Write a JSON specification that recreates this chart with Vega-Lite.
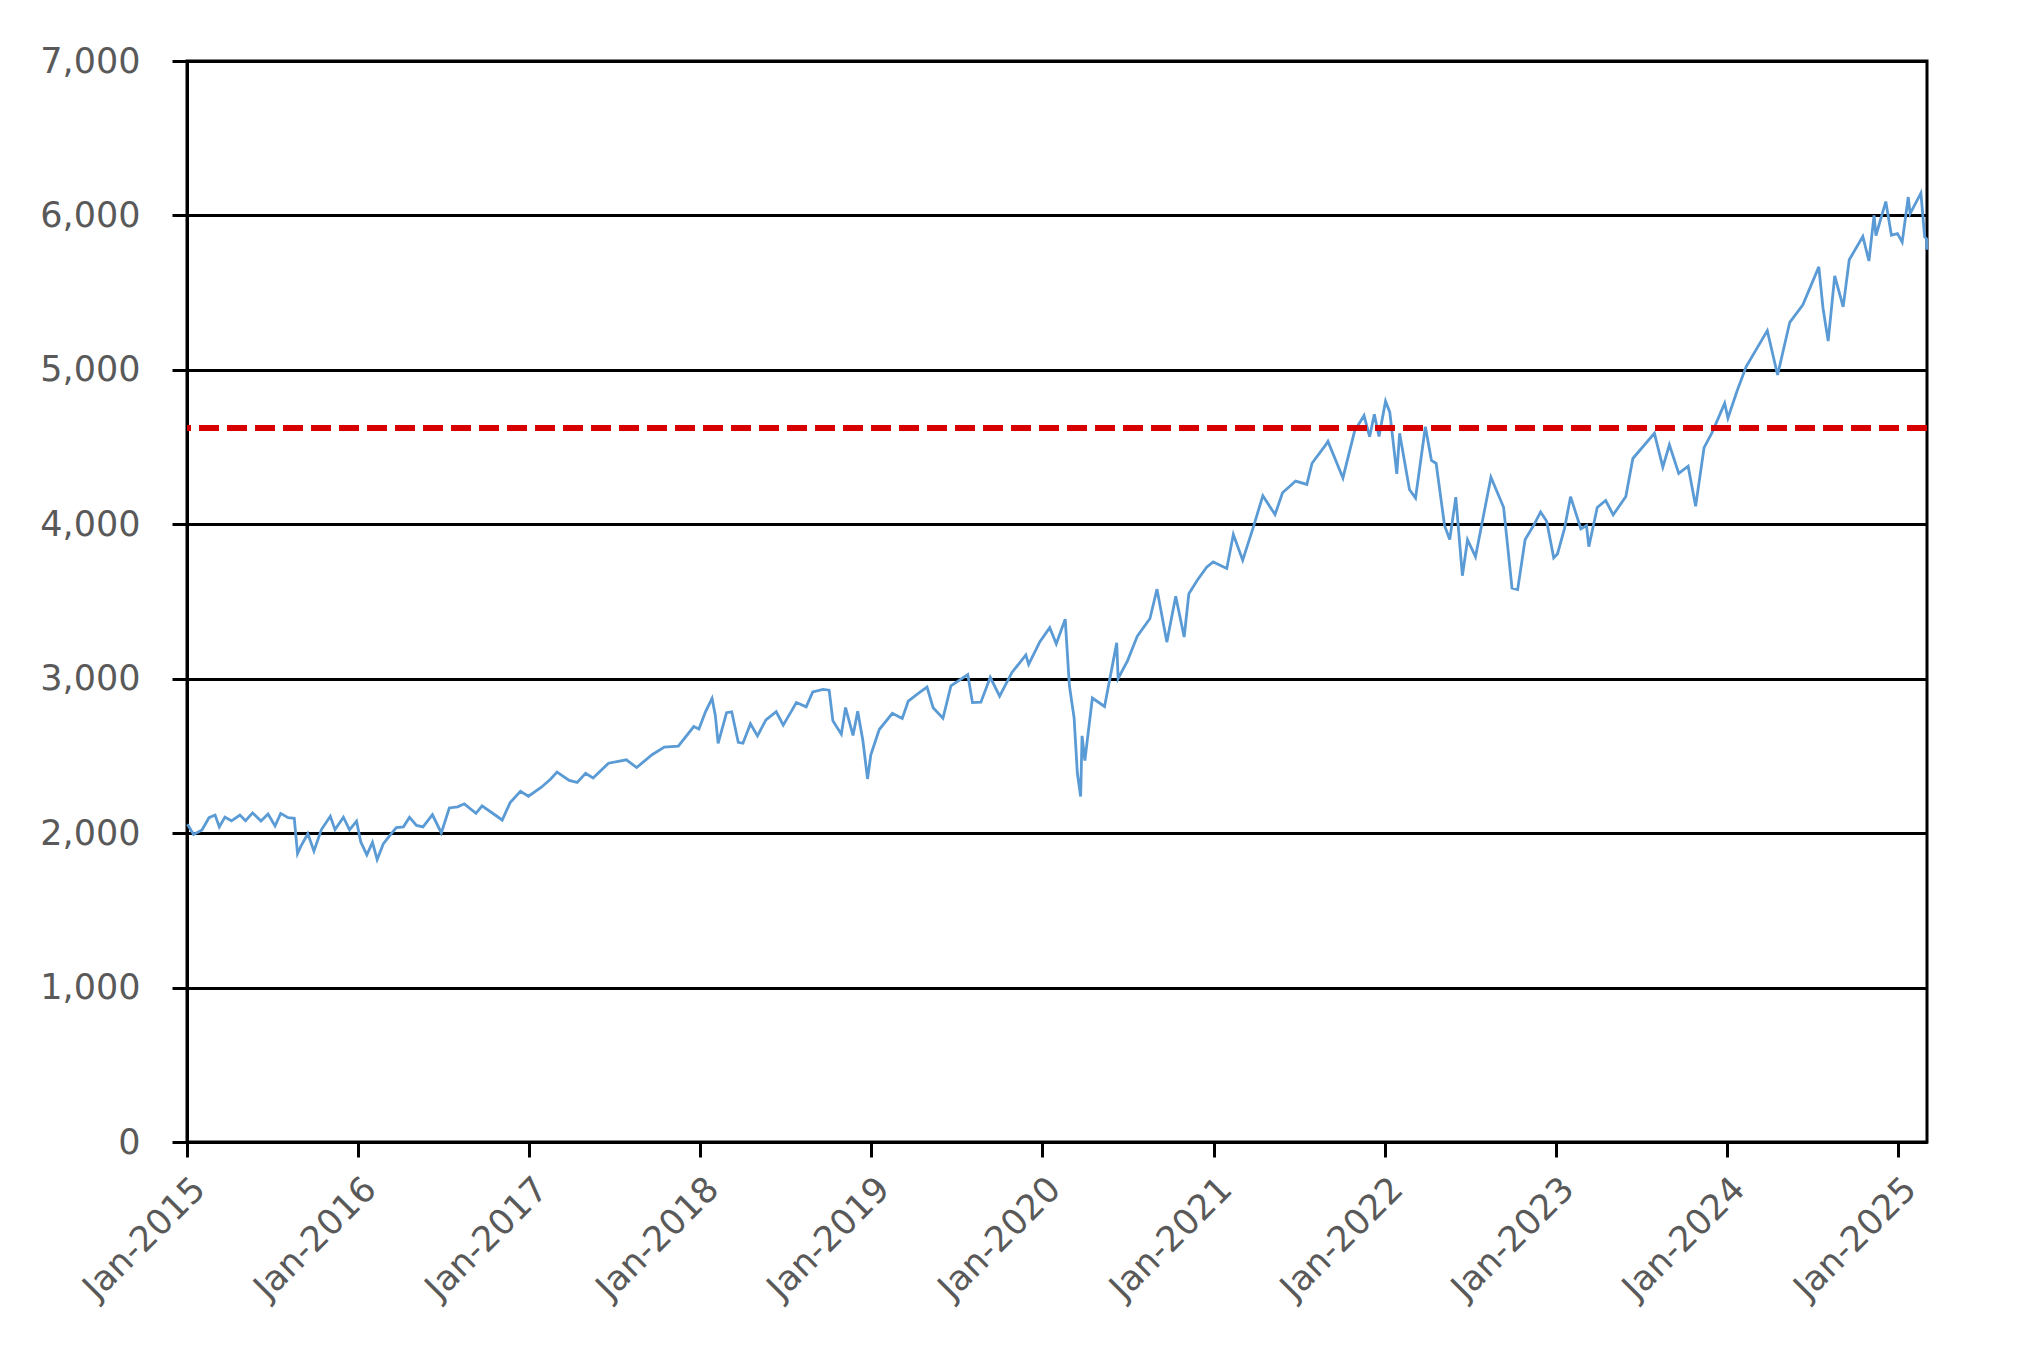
{
  "$schema": "https://vega.github.io/schema/vega-lite/v6.json",
  "width": 1740,
  "height": 1081,
  "autosize": {"type": "none"},
  "padding": {"left": 187, "top": 61, "right": 99, "bottom": 225},
  "background": "white",
  "config": {
    "view": {"stroke": "#000000", "strokeWidth": 3},
    "axis": {
      "labelFont": "DejaVu Sans",
      "labelFontSize": 35,
      "labelColor": "#595959",
      "domainColor": "#000000",
      "domainWidth": 3,
      "tickColor": "#000000",
      "tickWidth": 3,
      "tickSize": 15,
      "title": null
    }
  },
  "data": {
    "values": [
      {"d": "2015-01-02", "v": 2058}, {"d": "2015-01-15", "v": 1992}, {"d": "2015-02-02", "v": 2020},
      {"d": "2015-02-17", "v": 2100}, {"d": "2015-03-02", "v": 2117}, {"d": "2015-03-11", "v": 2040},
      {"d": "2015-03-23", "v": 2104}, {"d": "2015-04-06", "v": 2080}, {"d": "2015-04-24", "v": 2117},
      {"d": "2015-05-06", "v": 2080}, {"d": "2015-05-21", "v": 2131}, {"d": "2015-06-08", "v": 2079},
      {"d": "2015-06-23", "v": 2124}, {"d": "2015-07-08", "v": 2046}, {"d": "2015-07-20", "v": 2128},
      {"d": "2015-08-05", "v": 2100}, {"d": "2015-08-18", "v": 2096}, {"d": "2015-08-25", "v": 1867},
      {"d": "2015-09-01", "v": 1914}, {"d": "2015-09-16", "v": 1996}, {"d": "2015-09-29", "v": 1884},
      {"d": "2015-10-15", "v": 2023}, {"d": "2015-11-03", "v": 2109}, {"d": "2015-11-13", "v": 2023},
      {"d": "2015-12-01", "v": 2103}, {"d": "2015-12-14", "v": 2021}, {"d": "2015-12-29", "v": 2078},
      {"d": "2016-01-07", "v": 1943}, {"d": "2016-01-20", "v": 1859}, {"d": "2016-02-01", "v": 1940},
      {"d": "2016-02-11", "v": 1829}, {"d": "2016-02-24", "v": 1930}, {"d": "2016-03-10", "v": 1989},
      {"d": "2016-03-23", "v": 2036}, {"d": "2016-04-07", "v": 2041}, {"d": "2016-04-20", "v": 2102},
      {"d": "2016-05-05", "v": 2050}, {"d": "2016-05-19", "v": 2040}, {"d": "2016-06-08", "v": 2119},
      {"d": "2016-06-27", "v": 2001}, {"d": "2016-07-14", "v": 2163}, {"d": "2016-08-01", "v": 2170},
      {"d": "2016-08-15", "v": 2190}, {"d": "2016-09-09", "v": 2128}, {"d": "2016-09-22", "v": 2177},
      {"d": "2016-10-13", "v": 2132}, {"d": "2016-11-04", "v": 2085}, {"d": "2016-11-21", "v": 2198},
      {"d": "2016-12-13", "v": 2271}, {"d": "2016-12-30", "v": 2239},
      {"d": "2017-01-26", "v": 2296}, {"d": "2017-02-15", "v": 2349}, {"d": "2017-03-01", "v": 2396},
      {"d": "2017-03-27", "v": 2341}, {"d": "2017-04-13", "v": 2329}, {"d": "2017-05-01", "v": 2388},
      {"d": "2017-05-17", "v": 2357}, {"d": "2017-06-19", "v": 2453}, {"d": "2017-07-27", "v": 2475},
      {"d": "2017-08-18", "v": 2425}, {"d": "2017-09-20", "v": 2508}, {"d": "2017-10-16", "v": 2557},
      {"d": "2017-11-15", "v": 2564}, {"d": "2017-12-18", "v": 2690}, {"d": "2017-12-29", "v": 2674},
      {"d": "2018-01-12", "v": 2786}, {"d": "2018-01-26", "v": 2873}, {"d": "2018-02-02", "v": 2762},
      {"d": "2018-02-08", "v": 2581}, {"d": "2018-02-26", "v": 2780}, {"d": "2018-03-09", "v": 2786},
      {"d": "2018-03-23", "v": 2588}, {"d": "2018-04-02", "v": 2582}, {"d": "2018-04-18", "v": 2708},
      {"d": "2018-05-03", "v": 2630}, {"d": "2018-05-21", "v": 2733}, {"d": "2018-06-12", "v": 2786},
      {"d": "2018-06-27", "v": 2699}, {"d": "2018-07-16", "v": 2798}, {"d": "2018-07-25", "v": 2846},
      {"d": "2018-08-15", "v": 2818}, {"d": "2018-08-29", "v": 2914}, {"d": "2018-09-20", "v": 2931},
      {"d": "2018-10-03", "v": 2926}, {"d": "2018-10-11", "v": 2728}, {"d": "2018-10-29", "v": 2641},
      {"d": "2018-11-07", "v": 2813}, {"d": "2018-11-23", "v": 2633}, {"d": "2018-12-03", "v": 2790},
      {"d": "2018-12-14", "v": 2600}, {"d": "2018-12-24", "v": 2351}, {"d": "2018-12-31", "v": 2507},
      {"d": "2019-01-18", "v": 2671}, {"d": "2019-02-15", "v": 2776}, {"d": "2019-03-08", "v": 2743},
      {"d": "2019-03-21", "v": 2855}, {"d": "2019-04-12", "v": 2907}, {"d": "2019-04-30", "v": 2946},
      {"d": "2019-05-13", "v": 2812}, {"d": "2019-06-03", "v": 2744}, {"d": "2019-06-20", "v": 2954},
      {"d": "2019-07-26", "v": 3026}, {"d": "2019-08-05", "v": 2845}, {"d": "2019-08-23", "v": 2848},
      {"d": "2019-09-12", "v": 3009}, {"d": "2019-10-02", "v": 2887}, {"d": "2019-10-28", "v": 3039},
      {"d": "2019-11-27", "v": 3154}, {"d": "2019-12-03", "v": 3093}, {"d": "2019-12-27", "v": 3240},
      {"d": "2020-01-17", "v": 3330}, {"d": "2020-01-31", "v": 3226}, {"d": "2020-02-19", "v": 3386},
      {"d": "2020-02-28", "v": 2954}, {"d": "2020-03-09", "v": 2747}, {"d": "2020-03-16", "v": 2386},
      {"d": "2020-03-23", "v": 2237}, {"d": "2020-03-26", "v": 2630}, {"d": "2020-04-01", "v": 2470},
      {"d": "2020-04-17", "v": 2875}, {"d": "2020-05-13", "v": 2820}, {"d": "2020-06-08", "v": 3232},
      {"d": "2020-06-11", "v": 3002}, {"d": "2020-07-01", "v": 3116}, {"d": "2020-07-22", "v": 3276},
      {"d": "2020-08-18", "v": 3390}, {"d": "2020-09-02", "v": 3580}, {"d": "2020-09-23", "v": 3237},
      {"d": "2020-10-12", "v": 3534}, {"d": "2020-10-30", "v": 3270}, {"d": "2020-11-09", "v": 3550},
      {"d": "2020-11-27", "v": 3638}, {"d": "2020-12-17", "v": 3722}, {"d": "2020-12-31", "v": 3756},
      {"d": "2021-01-29", "v": 3714}, {"d": "2021-02-12", "v": 3934}, {"d": "2021-03-04", "v": 3768},
      {"d": "2021-03-26", "v": 3975}, {"d": "2021-04-16", "v": 4185}, {"d": "2021-05-12", "v": 4063},
      {"d": "2021-05-28", "v": 4204}, {"d": "2021-06-25", "v": 4280}, {"d": "2021-07-19", "v": 4258},
      {"d": "2021-07-30", "v": 4395}, {"d": "2021-08-27", "v": 4509}, {"d": "2021-09-02", "v": 4537},
      {"d": "2021-10-04", "v": 4300}, {"d": "2021-10-29", "v": 4605}, {"d": "2021-11-18", "v": 4704},
      {"d": "2021-11-30", "v": 4567}, {"d": "2021-12-10", "v": 4712}, {"d": "2021-12-20", "v": 4568},
      {"d": "2022-01-03", "v": 4797}, {"d": "2022-01-12", "v": 4726}, {"d": "2022-01-27", "v": 4326},
      {"d": "2022-02-02", "v": 4589}, {"d": "2022-02-23", "v": 4225}, {"d": "2022-03-08", "v": 4170},
      {"d": "2022-03-29", "v": 4632}, {"d": "2022-04-11", "v": 4413}, {"d": "2022-04-21", "v": 4394},
      {"d": "2022-05-09", "v": 3991}, {"d": "2022-05-20", "v": 3901}, {"d": "2022-06-02", "v": 4176},
      {"d": "2022-06-16", "v": 3667}, {"d": "2022-06-27", "v": 3900}, {"d": "2022-07-14", "v": 3790},
      {"d": "2022-08-16", "v": 4305}, {"d": "2022-09-12", "v": 4110}, {"d": "2022-09-30", "v": 3586},
      {"d": "2022-10-12", "v": 3577}, {"d": "2022-10-28", "v": 3901}, {"d": "2022-11-15", "v": 3992},
      {"d": "2022-11-30", "v": 4080}, {"d": "2022-12-13", "v": 4019}, {"d": "2022-12-28", "v": 3783},
      {"d": "2023-01-05", "v": 3808}, {"d": "2023-01-20", "v": 3972}, {"d": "2023-02-02", "v": 4179},
      {"d": "2023-02-24", "v": 3970}, {"d": "2023-03-08", "v": 3992}, {"d": "2023-03-13", "v": 3855},
      {"d": "2023-03-31", "v": 4109}, {"d": "2023-04-18", "v": 4154}, {"d": "2023-05-04", "v": 4061},
      {"d": "2023-05-31", "v": 4180}, {"d": "2023-06-15", "v": 4426}, {"d": "2023-07-31", "v": 4589},
      {"d": "2023-08-18", "v": 4370}, {"d": "2023-09-01", "v": 4515}, {"d": "2023-09-21", "v": 4330},
      {"d": "2023-10-11", "v": 4376}, {"d": "2023-10-27", "v": 4117}, {"d": "2023-11-14", "v": 4496},
      {"d": "2023-12-01", "v": 4594}, {"d": "2023-12-28", "v": 4783},
      {"d": "2024-01-04", "v": 4688}, {"d": "2024-01-24", "v": 4868}, {"d": "2024-02-12", "v": 5021},
      {"d": "2024-03-28", "v": 5254}, {"d": "2024-04-19", "v": 4967}, {"d": "2024-05-15", "v": 5308},
      {"d": "2024-06-12", "v": 5421}, {"d": "2024-07-16", "v": 5667}, {"d": "2024-07-25", "v": 5399},
      {"d": "2024-08-05", "v": 5186}, {"d": "2024-08-19", "v": 5608}, {"d": "2024-09-06", "v": 5408},
      {"d": "2024-09-19", "v": 5713}, {"d": "2024-10-18", "v": 5864}, {"d": "2024-10-31", "v": 5705},
      {"d": "2024-11-11", "v": 6001}, {"d": "2024-11-15", "v": 5870}, {"d": "2024-12-06", "v": 6090},
      {"d": "2024-12-18", "v": 5872}, {"d": "2024-12-31", "v": 5882},
      {"d": "2025-01-10", "v": 5827}, {"d": "2025-01-23", "v": 6119}, {"d": "2025-01-27", "v": 6012},
      {"d": "2025-02-19", "v": 6144}, {"d": "2025-02-27", "v": 5861}, {"d": "2025-03-03", "v": 5849},
      {"d": "2025-03-04", "v": 5778}
    ]
  },
  "layer": [
    {
      "mark": {"type": "line", "color": "#5B9BD5", "strokeWidth": 2.8},
      "encoding": {
        "x": {
          "field": "d",
          "type": "temporal",
          "scale": {
            "type": "utc",
            "nice": false,
            "domain": [
              {"year": 2015, "month": "jan", "date": 1, "utc": true},
              {"year": 2025, "month": "mar", "date": 4, "utc": true}
            ]
          },
          "axis": {
            "values": [
              {"year": 2015, "month": "jan", "date": 1, "utc": true},
              {"year": 2016, "month": "jan", "date": 1, "utc": true},
              {"year": 2017, "month": "jan", "date": 1, "utc": true},
              {"year": 2018, "month": "jan", "date": 1, "utc": true},
              {"year": 2019, "month": "jan", "date": 1, "utc": true},
              {"year": 2020, "month": "jan", "date": 1, "utc": true},
              {"year": 2021, "month": "jan", "date": 1, "utc": true},
              {"year": 2022, "month": "jan", "date": 1, "utc": true},
              {"year": 2023, "month": "jan", "date": 1, "utc": true},
              {"year": 2024, "month": "jan", "date": 1, "utc": true},
              {"year": 2025, "month": "jan", "date": 1, "utc": true}
            ],
            "labelExpr": "utcFormat(datum.value, '%b-%Y')",
            "labelAngle": -45,
            "labelPadding": 14,
            "grid": false
          }
        },
        "y": {
          "field": "v",
          "type": "quantitative",
          "scale": {"domain": [0, 7000], "nice": false},
          "axis": {
            "values": [0, 1000, 2000, 3000, 4000, 5000, 6000, 7000],
            "labelExpr": "format(datum.value, ',')",
            "labelPadding": 32,
            "grid": true,
            "gridColor": "#000000",
            "gridWidth": 3
          }
        }
      }
    },
    {
      "mark": {"type": "rule", "color": "#D60000", "strokeWidth": 5, "strokeDash": [20, 8]},
      "encoding": {"y": {"datum": 4625, "type": "quantitative"}}
    }
  ]
}
